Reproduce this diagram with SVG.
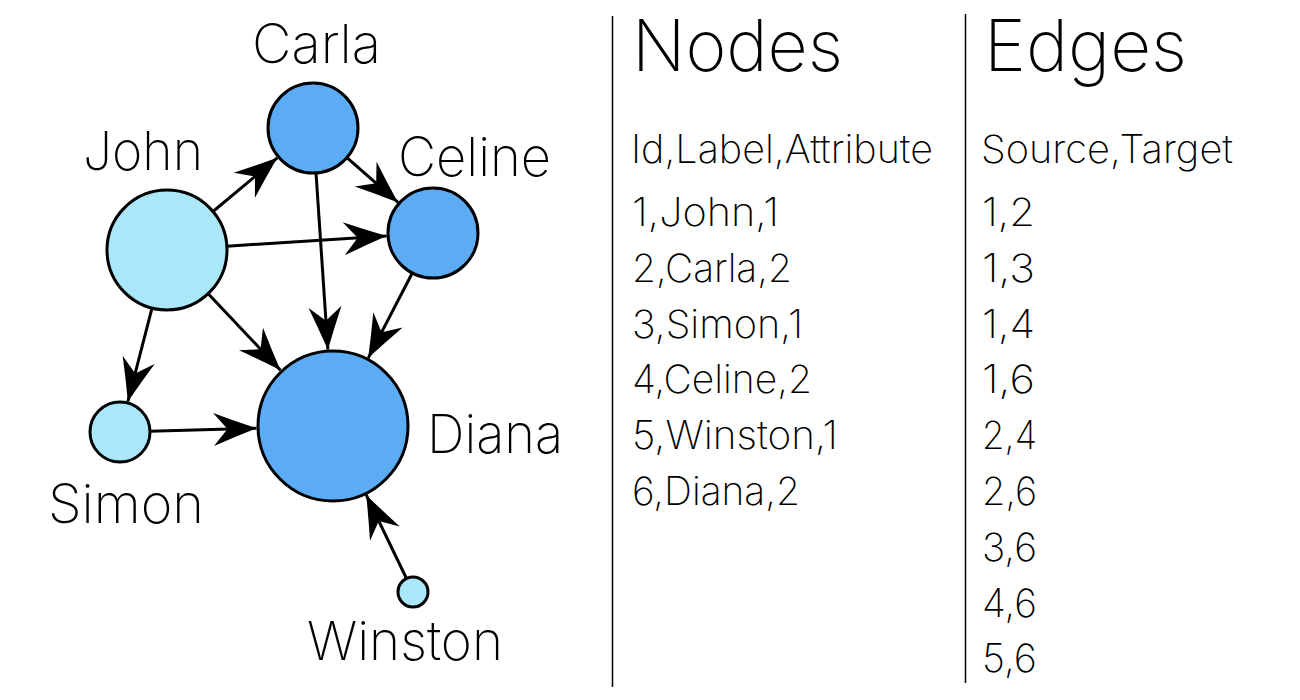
<svg xmlns="http://www.w3.org/2000/svg" width="1300" height="700" viewBox="0 0 1300 700">
<style>
text{font-family:Inter,"Liberation Sans",sans-serif;font-weight:200;fill:#000}
.lbl{font-size:54px}
.title{font-size:72px}
.row{font-size:39px}
.n1{fill:#A9E7F9;stroke:#000;stroke-width:3}
.n2{fill:#5BACF5;stroke:#000;stroke-width:3}
.e{stroke:#000;stroke-width:3;fill:none;marker-end:url(#ah)}
.sep{stroke:#000;stroke-width:1.5}
</style>
<defs>
<marker id="ah" markerUnits="userSpaceOnUse" markerWidth="1" markerHeight="1" refX="0" refY="0" orient="auto" overflow="visible">
<path d="M0,0 Q-22,-8 -43,-16.5 L-29,0 L-43,16.5 Q-22,8 0,0 Z" fill="#000"/>
</marker>
</defs>
<g id="connectors">
<line class="e" x1="213" y1="211.5" x2="277.3" y2="157.8"/>
<line class="e" x1="226.9" y1="246.2" x2="386.6" y2="236"/>
<line class="e" x1="208.2" y1="293.7" x2="280.5" y2="370.3"/>
<line class="e" x1="152" y1="308.1" x2="127.9" y2="401.5"/>
<line class="e" x1="346.9" y1="157.6" x2="398" y2="202.4"/>
<line class="e" x1="316" y1="172.9" x2="327.9" y2="349.7"/>
<line class="e" x1="412.3" y1="273" x2="368.2" y2="358.1"/>
<line class="e" x1="150" y1="431.2" x2="256.5" y2="428.2"/>
<line class="e" x1="406.5" y1="578.5" x2="366.2" y2="494.9"/>
</g>
<g id="john"><circle class="n1" cx="167" cy="250" r="60"/><text class="lbl" x="83" y="170" textLength="120" lengthAdjust="spacingAndGlyphs">John</text></g>
<g id="carla"><circle class="n2" cx="313" cy="128" r="45"/><text class="lbl" x="252" y="63" textLength="129" lengthAdjust="spacingAndGlyphs">Carla</text></g>
<g id="celine"><circle class="n2" cx="433" cy="233" r="45"/><text class="lbl" x="398" y="176" textLength="153" lengthAdjust="spacingAndGlyphs">Celine</text></g>
<g id="diana"><circle class="n2" cx="333" cy="426" r="75"/><text class="lbl" x="427" y="453" textLength="136" lengthAdjust="spacingAndGlyphs">Diana</text></g>
<g id="simon"><circle class="n1" cx="120" cy="432" r="30"/><text class="lbl" x="48" y="523" textLength="156" lengthAdjust="spacingAndGlyphs">Simon</text></g>
<g id="winston"><circle class="n1" cx="413" cy="592" r="15"/><text class="lbl" x="307" y="660" textLength="196" lengthAdjust="spacingAndGlyphs">Winston</text></g>
<g id="tables">
<line class="sep" x1="612.5" y1="16" x2="612.5" y2="687"/>
<line class="sep" x1="965.5" y1="14" x2="965.5" y2="683"/>
<text class="title" x="632" y="71" textLength="211" lengthAdjust="spacingAndGlyphs">Nodes</text>
<text class="title" x="984" y="71" textLength="203" lengthAdjust="spacingAndGlyphs">Edges</text>
<text class="row" x="631" y="163" textLength="302" lengthAdjust="spacingAndGlyphs">Id,Label,Attribute</text>
<text class="row" x="981" y="163" textLength="252" lengthAdjust="spacingAndGlyphs">Source,Target</text>
<text class="row" x="632" y="226" textLength="147" lengthAdjust="spacingAndGlyphs">1,John,1</text>
<text class="row" x="632" y="282" textLength="160" lengthAdjust="spacingAndGlyphs">2,Carla,2</text>
<text class="row" x="632" y="338" textLength="171" lengthAdjust="spacingAndGlyphs">3,Simon,1</text>
<text class="row" x="632" y="393" textLength="180" lengthAdjust="spacingAndGlyphs">4,Celine,2</text>
<text class="row" x="632" y="449" textLength="206" lengthAdjust="spacingAndGlyphs">5,Winston,1</text>
<text class="row" x="632" y="505" textLength="168" lengthAdjust="spacingAndGlyphs">6,Diana,2</text>
<text class="row" x="982" y="226" textLength="53" lengthAdjust="spacingAndGlyphs">1,2</text>
<text class="row" x="982" y="282" textLength="53" lengthAdjust="spacingAndGlyphs">1,3</text>
<text class="row" x="982" y="338" textLength="53" lengthAdjust="spacingAndGlyphs">1,4</text>
<text class="row" x="982" y="393" textLength="53" lengthAdjust="spacingAndGlyphs">1,6</text>
<text class="row" x="982" y="449" textLength="55" lengthAdjust="spacingAndGlyphs">2,4</text>
<text class="row" x="982" y="505" textLength="55" lengthAdjust="spacingAndGlyphs">2,6</text>
<text class="row" x="982" y="561" textLength="55" lengthAdjust="spacingAndGlyphs">3,6</text>
<text class="row" x="982" y="617" textLength="55" lengthAdjust="spacingAndGlyphs">4,6</text>
<text class="row" x="982" y="672" textLength="55" lengthAdjust="spacingAndGlyphs">5,6</text>
</g>
</svg>
